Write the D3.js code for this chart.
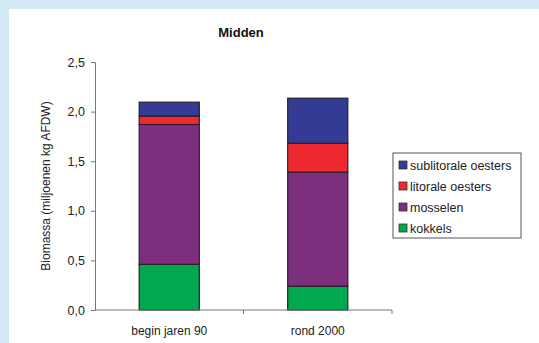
<!DOCTYPE html>
<html><head><meta charset="utf-8">
<script src="https://cdn.jsdelivr.net/npm/d3@7"></script>
<style>html,body{margin:0;padding:0;background:#fff;}svg{display:block;font-family:"Liberation Sans",Arial,sans-serif;}</style>
</head><body><svg id="c" width="539" height="343"></svg>
<script>
const categories = ["begin jaren 90", "rond 2000"];
const seriesNames = ["kokkels", "mosselen", "litorale oesters", "sublitorale oesters"];
const kokkels = [0.46, 0.24];
const mosselen = [1.41, 1.15];
const litorale = [0.085, 0.29];
const sublitorale = [0.14, 0.455];
const yTicks = [0, 0.5, 1.0, 1.5, 2.0, 2.5];
const colors = ["#00a84f", "#7b2f7c", "#ee2a30", "#333b95"];

const svg = d3.select("#c");
svg.append("rect").attr("width",539).attr("height",343).attr("fill","#d2e9f3");
svg.append("rect").attr("x",9).attr("y",9).attr("width",530).attr("height",334).attr("fill","#fff");

const rows = categories.map((c,i)=>({cat:c, kokkels:kokkels[i], mosselen:mosselen[i], "litorale oesters":litorale[i], "sublitorale oesters":sublitorale[i]}));
const stack = d3.stack().keys(seriesNames)(rows);

const x = d3.scaleBand().domain(categories).range([95,392]);
const y = d3.scaleLinear().domain([0,2.5]).range([310,62]);
const bw = x.bandwidth()*0.405;

svg.append("text").attr("x",241).attr("y",37).attr("text-anchor","middle").attr("font-weight","bold").attr("font-size",13).attr("fill","#111").text("Midden");

// y axis
const ya = svg.append("g").attr("transform","translate(95,0)")
  .call(d3.axisLeft(y).tickValues(yTicks).tickSize(4).tickPadding(6).tickFormat(d=>d3.format(".1f")(d).replace(".",",")));
ya.select(".domain").attr("stroke","#777");
ya.selectAll(".tick line").attr("stroke","#777");
ya.selectAll("text").attr("font-size",12.5).attr("fill","#222").style("font-family","Liberation Sans, Arial, sans-serif");

svg.append("text").attr("transform","translate(50,186) rotate(-90)").attr("text-anchor","middle").attr("font-size",12).attr("fill","#222").text("Biomassa (miljoenen kg AFDW)");

// bars
svg.append("g").selectAll("g").data(stack).join("g").attr("fill",(d,i)=>colors[i])
  .selectAll("rect").data(d=>d).join("rect")
  .attr("x",d=>x(d.data.cat)+(x.bandwidth()-bw)/2)
  .attr("y",d=>y(d[1])).attr("height",d=>y(d[0])-y(d[1])).attr("width",bw)
  .attr("stroke","#2a1f2a").attr("stroke-width",1.2);

// x axis
const xa = svg.append("g").attr("transform","translate(0,310)");
xa.append("line").attr("x1",95).attr("x2",392).attr("stroke","#777");
const bounds = [x.range()[0]+x.step(), x.range()[1]];
xa.selectAll(".tk").data(bounds).join("line").attr("x1",d=>d).attr("x2",d=>d).attr("y1",0).attr("y2",4).attr("stroke","#777");
xa.selectAll(".lb").data(categories).join("text").attr("x",d=>x(d)+x.bandwidth()/2).attr("y",25).attr("text-anchor","middle").attr("font-size",12).attr("fill","#222").text(d=>d);

// legend
const lg = svg.append("g");
lg.append("rect").attr("x",393).attr("y",153).attr("width",128).attr("height",85).attr("fill","#fff").attr("stroke","#555");
const legOrder = seriesNames.slice().reverse();
legOrder.forEach((s,i)=>{
  const cy = 165 + i*21;
  lg.append("rect").attr("x",399).attr("y",cy-4).attr("width",8).attr("height",8).attr("fill",colors[seriesNames.indexOf(s)]).attr("stroke","#333").attr("stroke-width",0.8);
  lg.append("text").attr("x",410).attr("y",cy+4.5).attr("font-size",12.5).attr("fill","#222").text(s);
});
</script></body></html>
